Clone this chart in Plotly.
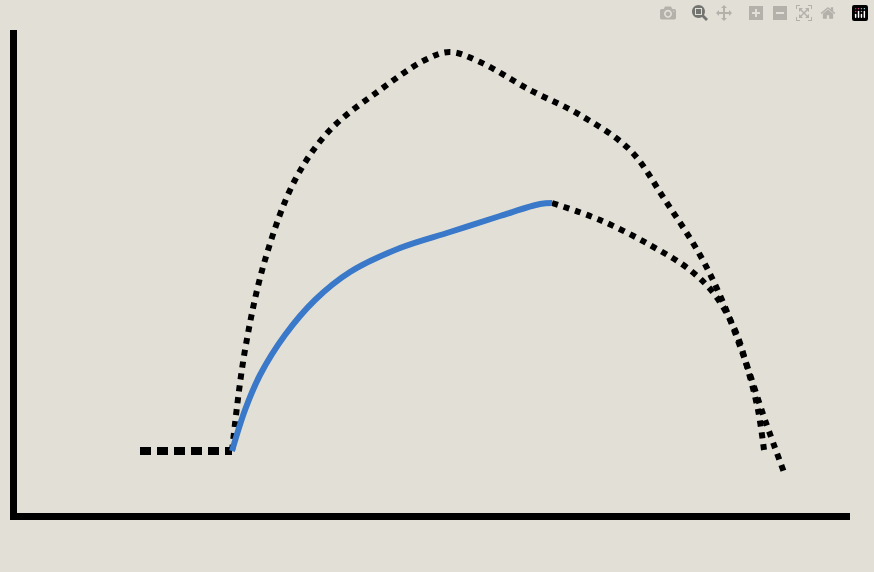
import plotly.graph_objects as go

# schematic coordinates (arbitrary units)
flat_x = [140, 232]
flat_y = [121, 121]
blue_x = [232, 245, 260, 285, 315, 350, 400, 450, 500, 540, 552]
blue_y = [121, 162, 197, 237, 272, 300, 324, 340, 356, 368, 369]
low_x = [552, 600, 650, 690, 715, 735, 748, 758, 764]
low_y = [369, 352, 327, 302, 277, 242, 202, 162, 122]
up_x = [232, 245, 265, 295, 330, 380, 425, 450, 480, 530, 580, 630, 665, 700, 722, 745, 765, 785]
up_y = [121, 222, 312, 392, 442, 482, 512, 520, 510, 482, 457, 422, 372, 317, 272, 212, 152, 97]
label = "Whole muscle changes"

fig = go.Figure()
fig.add_trace(go.Scatter(x=flat_x, y=flat_y, mode="lines", line=dict(color="black", width=8, dash="11px,6px")))
fig.add_trace(go.Scatter(x=up_x, y=up_y, mode="lines", line=dict(color="black", width=6, dash="dot", shape="spline")))
fig.add_trace(go.Scatter(x=low_x, y=low_y, mode="lines", line=dict(color="black", width=6, dash="dot", shape="spline")))
fig.add_trace(go.Scatter(x=blue_x, y=blue_y, mode="lines", line=dict(color="#3a78c9", width=6, shape="spline")))

fig.add_annotation(text=label, x=381, xref="x", y=-20, yref="paper", yanchor="top",
                   showarrow=False, font=dict(family="Liberation Sans, Arial", size=24, color="black"))

fig.update_layout(
    width=874, height=572, showlegend=False,
    paper_bgcolor="#e2e0d6", plot_bgcolor="#e2e0d6",
    margin=dict(l=17, r=24, t=30, b=59),
    xaxis=dict(range=[17, 850], showgrid=False, zeroline=False, showticklabels=False,
               showline=True, linecolor="black", linewidth=7),
    yaxis=dict(range=[59, 542], showgrid=False, zeroline=False, showticklabels=False,
               showline=True, linecolor="black", linewidth=7),
)
fig.write_html("out.html", post_script="document.body.style.margin='0';document.body.style.background='#e2e0d6';")
